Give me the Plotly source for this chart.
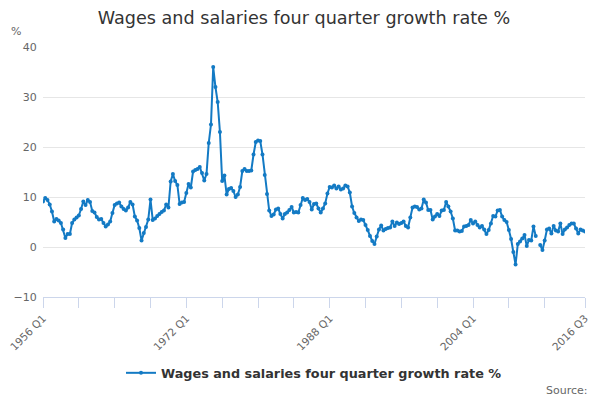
import plotly.graph_objects as go

# quarterly categories 1956 Q1 .. 2016 Q3
quarters = [f"{y} Q{q}" for y in range(1956, 2017) for q in range(1, 5)][:243]

growth = [
    9.1, 9.8, 9.4, 8.5, 7.1, 5.1, 5.6, 5.3, 4.8, 3.5,
    1.8, 2.6, 2.6, 4.8, 5.5, 5.9, 6.3, 7.6, 9.1, 8.4,
    9.4, 9.0, 7.2, 6.9, 6.0, 5.5, 5.6, 4.8, 4.1, 4.5,
    5.1, 6.8, 8.4, 8.7, 8.9, 8.1, 7.6, 7.3, 7.9, 9.0,
    8.5, 6.1, 5.3, 3.8, 1.3, 2.8, 4.0, 5.5, 9.5, 5.4,
    5.7, 6.2, 6.6, 7.0, 7.3, 8.5, 7.9, 13.1, 14.6, 13.2,
    12.4, 8.6, 8.9, 9.0, 10.8, 12.6, 11.9, 15.1, 15.4, 15.6,
    16.0, 14.8, 13.3, 14.6, 20.8, 24.5, 36.0, 32.0, 29.0, 23.0,
    13.2, 14.3, 10.5, 11.6, 11.8, 11.2, 10.0, 10.5, 12.0, 15.2,
    15.6, 15.2, 15.2, 15.3, 18.5, 21.0, 21.3, 21.2, 18.5, 14.4,
    10.6, 7.3, 6.2, 6.5, 7.5, 7.7, 6.6, 5.7, 6.6, 6.9,
    7.4, 8.0, 6.9, 7.0, 6.9, 8.4, 9.8, 9.4, 9.6, 9.0,
    7.5, 8.6, 8.7, 7.7, 6.9, 7.7, 8.7, 10.7, 12.0, 11.9,
    12.3, 11.7, 12.1, 11.5, 11.7, 12.3, 12.1, 10.9, 8.1, 6.8,
    5.9, 5.2, 5.5, 5.4, 4.4, 3.4, 2.2, 1.2, 0.6, 2.1,
    3.5, 4.3, 3.3, 3.6, 3.8, 3.9, 5.1, 4.2, 4.9, 4.6,
    4.8, 5.1, 4.2, 3.9, 5.9, 7.9, 8.1, 8.0, 7.5, 7.7,
    9.5, 8.9, 7.4, 7.4, 5.5, 6.1, 6.6, 6.2, 7.3, 7.4,
    9.0, 8.1, 7.1, 5.7, 3.3, 3.3, 3.1, 3.2, 4.1, 4.2,
    4.4, 5.4, 4.7, 5.1, 4.4, 3.9, 4.2, 3.5, 2.6, 3.4,
    4.7, 6.2, 6.1, 7.3, 7.4, 6.1, 5.4, 5.0, 3.4, 1.6,
    -1.0, -3.5, 0.6, 1.1, 1.7, 2.4, 0.2, 1.4, 1.3, 4.1,
    2.2, None, 0.4, -0.6, 1.3, 3.5, 3.7, 2.7, 4.2, 3.3,
    3.1, 4.7, 2.6, 3.5, 3.9, 4.4, 4.7, 4.7, 3.7, 2.7,
    3.5, 3.3, 3.1,
]

tick_cats = quarters[:225:16] + [quarters[-1]]
label_cats = ["1956 Q1", "1972 Q1", "1988 Q1", "2004 Q1", "2016 Q3"]
tick_text = [c if c in label_cats else "" for c in tick_cats]

font = "DejaVu Sans, sans-serif"
blue = "#137ac4"

fig = go.Figure()
fig.add_scatter(
    x=quarters,
    y=growth,
    mode="lines+markers",
    name="Wages and salaries four quarter growth rate %",
    line=dict(color=blue, width=2),
    marker=dict(color=blue, size=4),
    connectgaps=False,
)

# page body adds an 8px margin, so the figure is a little smaller than the window
fig.update_layout(
    width=592,
    height=392,
    margin=dict(l=35, r=15, t=39, b=103, autoexpand=False),
    paper_bgcolor="white",
    plot_bgcolor="white",
    font=dict(family=font, color="#666666", size=11),
    title=dict(
        text="Wages and salaries four quarter growth rate %",
        x=0.5,
        xref="container",
        xanchor="center",
        y=1 - 10 / 392,
        yanchor="middle",
        font=dict(size=17.6, color="#333333"),
    ),
    showlegend=True,
    legend=dict(
        orientation="h",
        x=0.5,
        xanchor="center",
        y=-0.304,
        yanchor="middle",
        itemwidth=30,
        font=dict(size=12.8, color="#333333", weight="bold"),
    ),
    annotations=[
        dict(
            text="%", xref="paper", yref="paper", x=-0.062, y=1.06,
            xanchor="left", yanchor="middle", showarrow=False,
            font=dict(size=11, color="#666666"),
        ),
        dict(
            text="Source:", xref="paper", yref="paper", x=1.009, y=-0.372,
            xanchor="right", yanchor="middle", showarrow=False,
            font=dict(size=11, color="#666666"),
        ),
    ],
)

fig.update_xaxes(
    type="category",
    range=[0, len(quarters) - 1],
    tickmode="array",
    tickvals=tick_cats,
    ticktext=tick_text,
    tickangle=-45,
    tickfont=dict(size=10.6),
    showgrid=False,
    showline=True,
    linecolor="#ccd6eb",
    ticks="outside",
    ticklen=10,
    tickcolor="#ccd6eb",
    zeroline=False,
    automargin=False,
)
fig.update_yaxes(
    range=[-10, 40],
    dtick=10,
    gridcolor="#e6e6e6",
    zeroline=False,
    ticks="outside",
    ticklen=3,
    tickcolor="rgba(0,0,0,0)",
    automargin=False,
)

fig.write_html("out.html")
